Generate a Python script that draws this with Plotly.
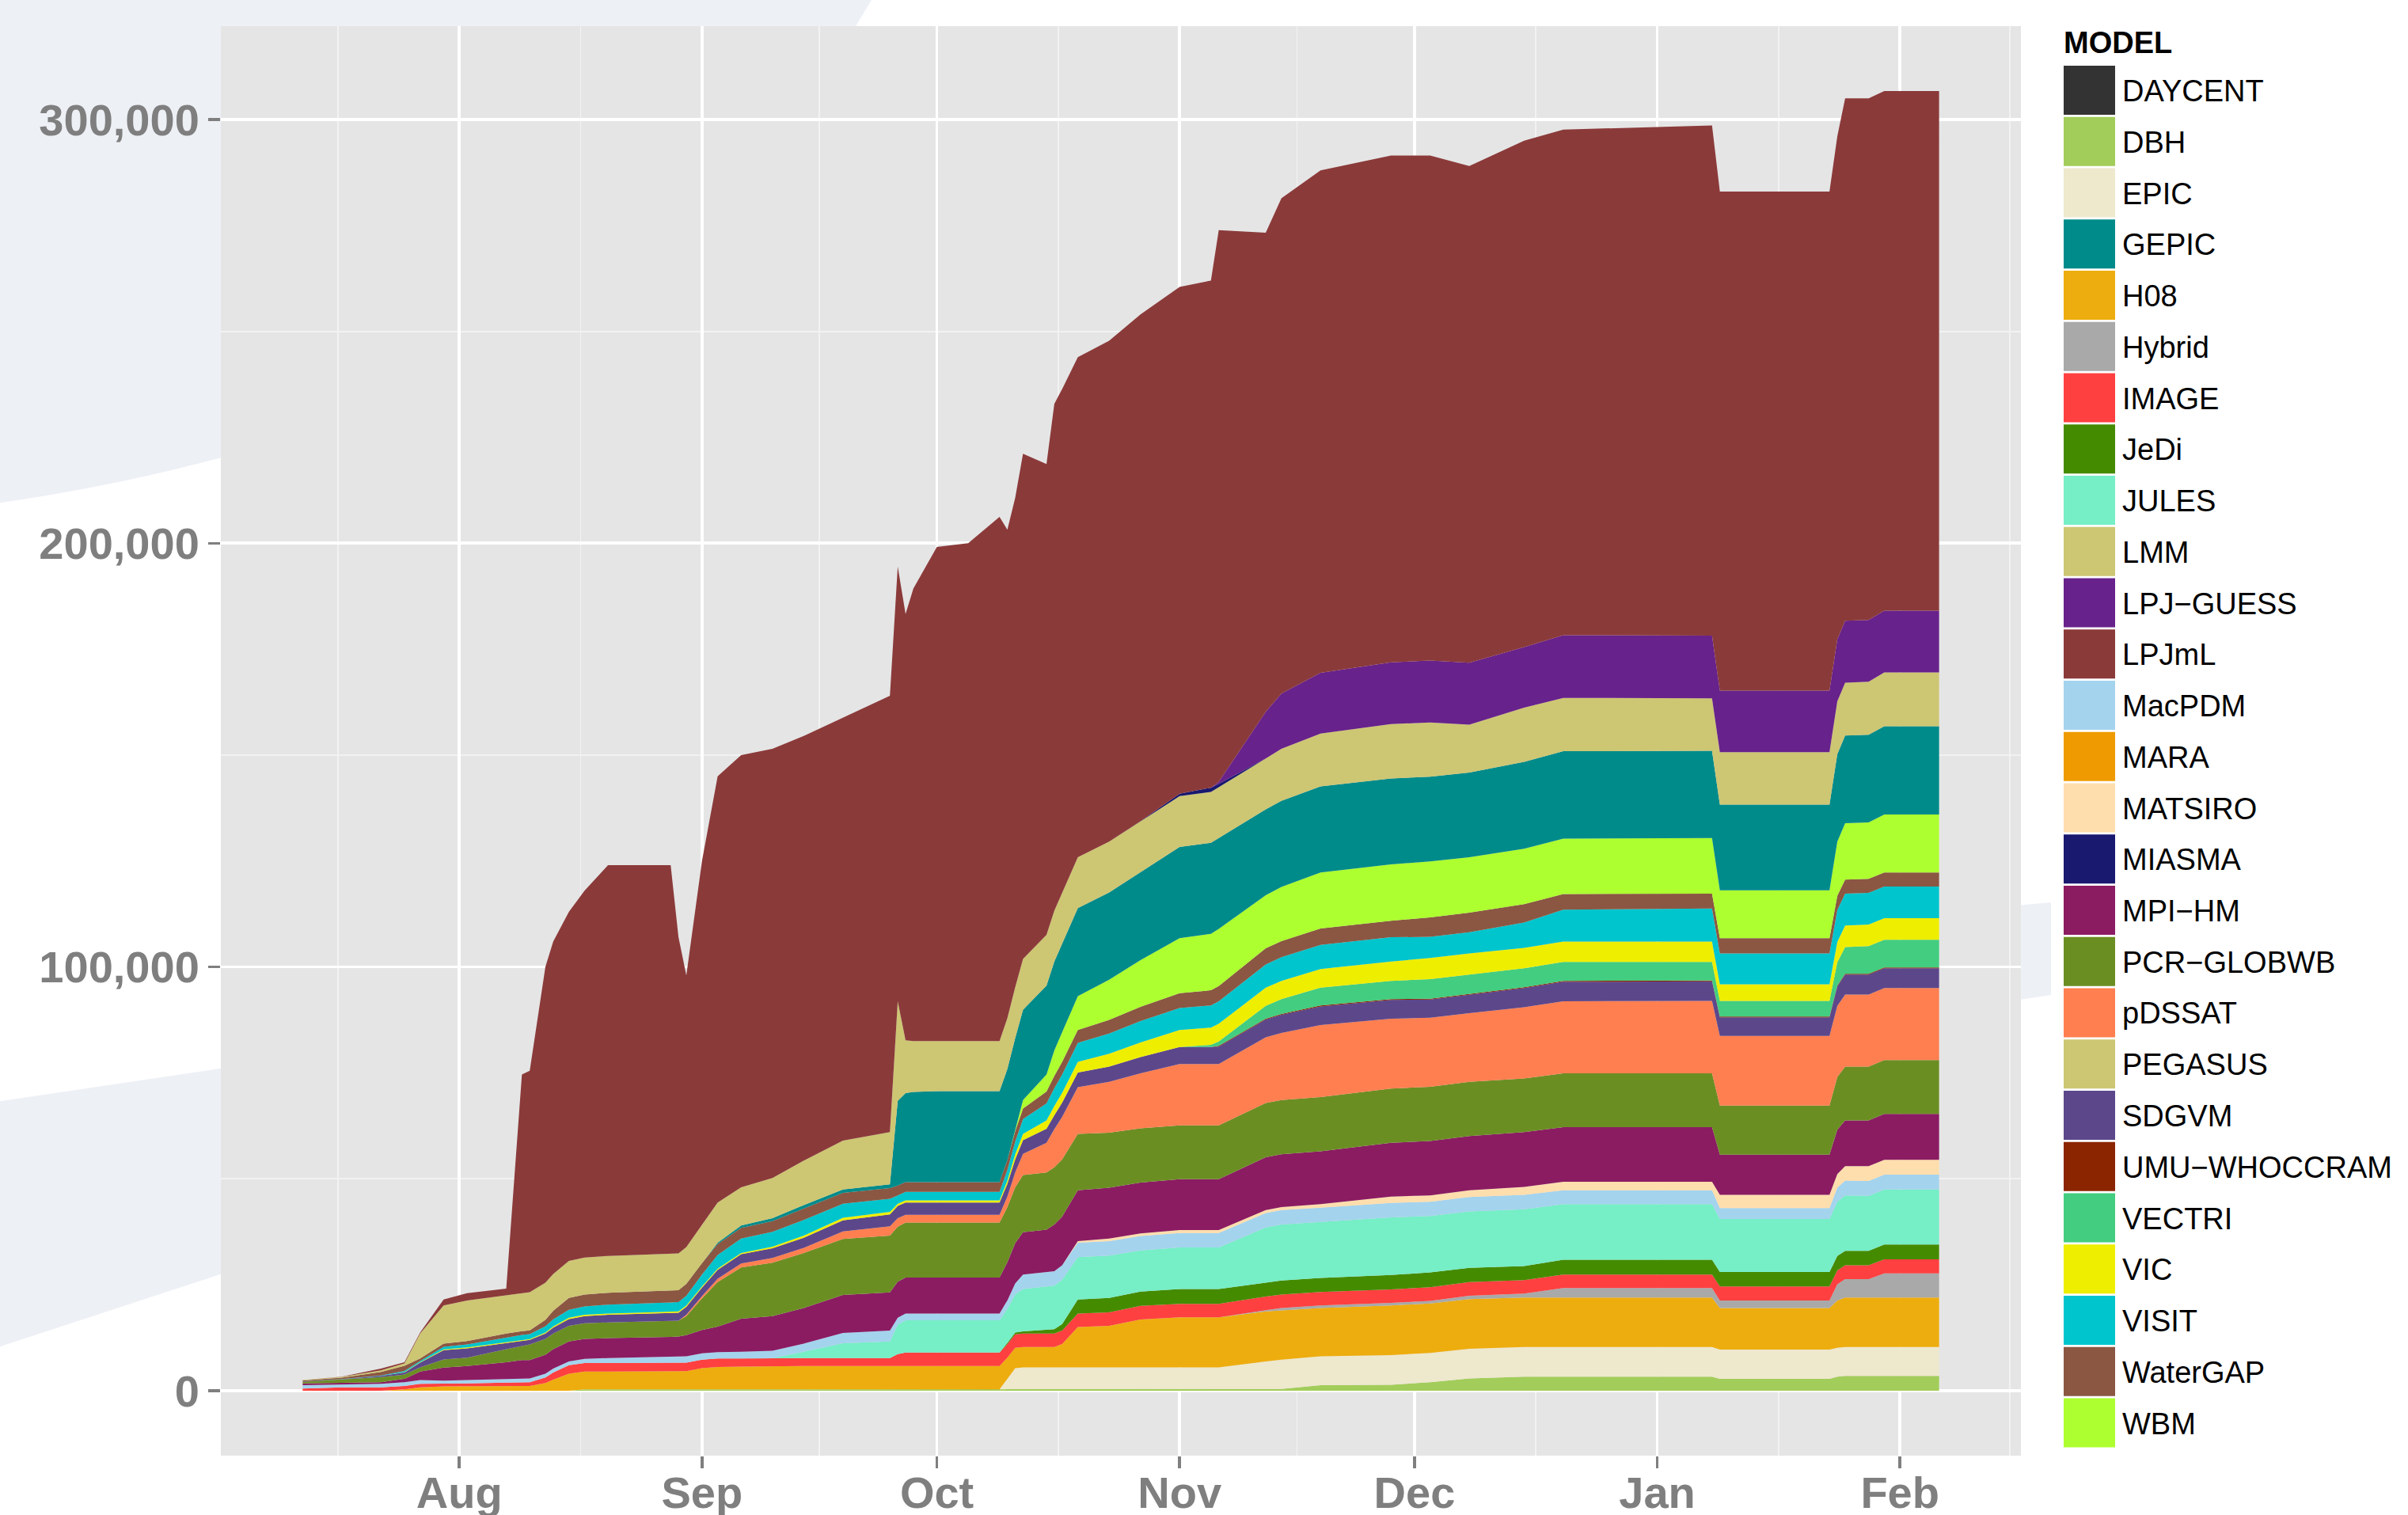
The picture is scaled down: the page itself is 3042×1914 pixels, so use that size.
import plotly.graph_objects as go
import pandas as pd

# ---------------- data (values in thousands) ----------------
DATES = ['2012-07-12', '2012-07-17', '2012-07-22', '2012-07-25', '2012-07-27', '2012-07-30', '2012-08-02', '2012-08-07', '2012-08-09', '2012-08-10',
         '2012-08-12', '2012-08-13', '2012-08-15', '2012-08-17', '2012-08-20', '2012-08-28', '2012-08-29', '2012-08-30', '2012-09-01', '2012-09-03',
         '2012-09-06', '2012-09-10', '2012-09-14', '2012-09-19', '2012-09-25', '2012-09-26', '2012-09-27', '2012-09-28', '2012-10-01', '2012-10-05',
         '2012-10-09', '2012-10-10', '2012-10-11', '2012-10-12', '2012-10-15', '2012-10-16', '2012-10-17', '2012-10-19', '2012-10-23', '2012-10-27',
         '2012-11-01', '2012-11-05', '2012-11-06', '2012-11-12', '2012-11-14', '2012-11-19', '2012-11-28', '2012-12-03', '2012-12-08', '2012-12-15',
         '2012-12-20', '2013-01-08', '2013-01-09', '2013-01-23', '2013-01-24', '2013-01-25', '2013-01-28', '2013-01-30', '2013-02-06']

# height of the whole stack (top edge of LPJmL)
TOTAL_TOP = [2.5, 3.3, 5.2, 6.7, 13.7, 21.5, 23.0, 24.1, 74.6, 75.5,
             100.0, 106.0, 113.0, 118.0, 124.0, 124.0, 107.0, 98.0, 125.0, 145.0,
             150.0, 151.5, 154.5, 158.8, 164.0, 194.5, 183.3, 189.3, 199.1, 200.0,
             206.2, 203.2, 210.7, 221.1, 218.7, 232.9, 236.4, 243.9, 247.8, 254.0,
             260.5, 262.0, 273.9, 273.3, 281.4, 288.0, 291.5, 291.5, 289.0, 295.0,
             297.6, 298.6, 283.0, 283.0, 296.0, 305.0, 305.0, 306.7, 306.7]

DBH = [0, 0, 0, 0, 0, 0, 0, 0, 0, 0,
       0, 0, 0, 0.3, 0.3, 0.3, 0.3, 0.3, 0.3, 0.3,
       0.3, 0.3, 0.3, 0.3, 0.3, 0.3, 0.3, 0.3, 0.3, 0.3,
       0.3, 0.3, 0.3, 0.3, 0.3, 0.3, 0.3, 0.3, 0.3, 0.3,
       0.3, 0.3, 0.3, 0.3, 0.4, 1.3, 1.4, 2.0, 2.9, 3.3,
       3.3, 3.3, 2.8, 2.8, 3.3, 3.5, 3.5, 3.5, 3.5]
EPIC = [0, 0, 0, 0, 0, 0, 0, 0, 0, 0,
        0, 0, 0, 0, 0, 0, 0, 0, 0, 0,
        0, 0, 0, 0, 0, 0, 0, 0, 0, 0,
        0, 2.5, 5.0, 5.2, 5.2, 5.2, 5.2, 5.2, 5.2, 5.2,
        5.2, 5.2, 5.2, 6.6, 6.9, 6.8, 7.0, 6.9, 7.0, 7.0,
        7.0, 7.0, 6.9, 6.9, 6.8, 6.8, 6.8, 6.8, 6.8]
H08 = [0, 0, 0, 0.3, 0.8, 1.0, 1.0, 1.0, 1.1, 1.1,
       1.8, 2.6, 4.0, 4.2, 4.2, 4.2, 4.2, 4.3, 5.0, 5.3,
       5.4, 5.5, 5.5, 5.5, 5.5, 5.5, 5.5, 5.5, 5.5, 5.5,
       5.5, 5.0, 4.8, 4.8, 4.8, 4.8, 5.5, 9.5, 9.8, 11.3,
       11.8, 11.8, 11.8, 11.8, 11.6, 11.4, 11.7, 11.7, 11.7, 11.7,
       11.7, 11.7, 9.8, 9.8, 11.2, 11.7, 11.7, 11.7, 11.7]
HYBRID = [0, 0, 0, 0, 0, 0, 0, 0, 0, 0,
          0, 0, 0, 0, 0, 0, 0, 0, 0, 0,
          0, 0, 0, 0, 0, 0, 0, 0, 0, 0,
          0, 0, 0, 0, 0, 0, 0, 0, 0, 0,
          0, 0, 0, 0.3, 0.6, 0.6, 0.6, 0.6, 0.8, 0.9,
          2.2, 2.2, 1.8, 1.8, 3.8, 4.3, 4.3, 5.7, 5.7]
IMAGE = [0.5, 0.8, 0.8, 0.8, 0.8, 0.6, 0.7, 0.9, 0.9, 0.9,
         1.3, 1.7, 2.0, 2.0, 2.0, 2.0, 2.0, 2.0, 2.0, 2.0,
         1.9, 1.9, 1.9, 1.9, 1.9, 2.8, 3.2, 3.2, 3.2, 3.2,
         3.2, 3.2, 3.2, 3.2, 3.2, 3.2, 3.2, 3.2, 3.2, 3.2,
         3.2, 3.2, 3.2, 3.2, 3.2, 3.2, 3.2, 3.2, 3.2, 3.2,
         3.2, 3.2, 3.3, 3.3, 3.3, 3.3, 3.3, 3.3, 3.3]
JEDI = [0, 0, 0, 0, 0, 0, 0, 0, 0, 0,
        0, 0, 0, 0, 0, 0, 0, 0, 0, 0,
        0, 0, 0, 0, 0, 0, 0, 0, 0, 0,
        0, 0.3, 0.4, 0.5, 0.8, 1.0, 1.5, 3.3, 3.4, 3.4,
        3.5, 3.5, 3.5, 3.3, 3.3, 3.3, 3.4, 3.5, 3.4, 3.3,
        3.5, 3.5, 3.4, 3.4, 3.4, 3.4, 3.4, 3.5, 3.5]
JULES = [0, 0, 0, 0, 0, 0, 0, 0, 0, 0,
         0, 0, 0, 0, 0, 0, 0, 0, 0, 0,
         0, 0, 1.5, 3.5, 3.9, 7.0, 7.6, 7.6, 7.6, 7.6,
         7.6, 8.0, 9.0, 10.0, 10.3, 10.3, 10.5, 10.0, 10.0, 9.7,
         9.8, 9.8, 9.8, 13.0, 13.2, 13.2, 13.6, 13.3, 13.3, 13.4,
         13.1, 13.1, 12.5, 12.5, 12.8, 13.1, 13.0, 13.0, 13.0]
MACPDM = [0.8, 0.7, 0.8, 0.9, 0.9, 0.75, 0.8, 0.8, 0.9, 0.9,
          0.9, 0.9, 0.9, 1.0, 1.2, 1.5, 1.5, 1.5, 1.5, 1.5,
          1.6, 1.7, 1.9, 2.4, 2.6, 1.6, 1.6, 1.6, 1.6, 1.6,
          1.6, 2.0, 2.6, 3.4, 3.4, 3.4, 3.4, 3.4, 3.4, 3.4,
          3.4, 3.4, 3.4, 3.4, 3.4, 3.4, 3.4, 3.4, 3.4, 3.4,
          3.3, 3.3, 2.6, 2.6, 3.3, 3.5, 3.5, 3.5, 3.5]
MATSIRO = [0, 0, 0, 0, 0, 0, 0, 0, 0, 0,
           0, 0, 0, 0, 0, 0, 0, 0, 0, 0,
           0, 0, 0, 0, 0, 0, 0, 0, 0, 0,
           0, 0, 0, 0, 0, 0, 0, 0.4, 0.6, 0.6,
           0.7, 0.7, 0.7, 0.7, 0.7, 0.8, 1.5, 1.5, 1.6, 1.9,
           2.0, 2.0, 3.1, 3.1, 3.2, 3.4, 3.5, 3.5, 3.5]
MPIHM = [0.4, 0.3, 0.4, 0.8, 2.0, 3.1, 3.3, 4.0, 4.3, 4.3,
         4.5, 4.6, 4.7, 4.7, 4.7, 4.7, 4.8, 5.0, 5.5, 6.0,
         7.8, 8.2, 8.4, 9.0, 9.0, 8.5, 8.5, 8.5, 8.5, 8.5,
         8.5, 9.0, 9.5, 10.0, 10.0, 11.0, 11.5, 12.0, 12.0, 12.0,
         12.0, 12.0, 12.0, 12.5, 12.5, 12.5, 12.7, 12.8, 12.8, 12.9,
         12.9, 12.9, 9.5, 9.5, 10.5, 10.8, 10.8, 10.8, 10.8]
PCR = [0.4, 0.8, 1.2, 1.0, 1.0, 1.9, 2.0, 3.1, 3.4, 3.7,
       3.7, 3.7, 3.7, 3.7, 3.7, 3.7, 3.7, 4.5, 7.5, 10.5,
       12.1, 12.6, 13.0, 13.2, 13.4, 13.0, 13.0, 13.0, 13.0, 13.0,
       13.0, 13.0, 13.2, 13.5, 13.5, 13.5, 13.5, 13.3, 13.0, 12.8,
       12.7, 12.7, 12.7, 12.8, 12.8, 12.8, 12.8, 12.8, 12.8, 12.7,
       12.7, 12.7, 11.6, 11.6, 12.4, 12.7, 12.7, 12.7, 12.7]
PDSSAT = [0, 0, 0, 0, 0, 0, 0, 0, 0, 0,
          0, 0, 0, 0, 0, 0, 0, 0.3, 0.5, 0.8,
          0.9, 1.1, 1.2, 1.8, 2.2, 2.0, 1.8, 1.8, 1.8, 1.8,
          1.8, 2.5, 3.5, 5.0, 7.0, 9.0, 10.0, 11.0, 12.0, 13.0,
          14.5, 14.5, 14.5, 15.5, 15.8, 17.0, 16.5, 16.3, 16.2, 16.8,
          17.0, 17.1, 16.4, 16.4, 16.8, 17.0, 17.0, 17.0, 17.0]
SDGVM = [0.1, 0.1, 0.3, 0.5, 1.1, 2.2, 2.2, 1.4, 1.2, 1.1,
         1.3, 1.4, 1.6, 1.7, 1.8, 1.9, 1.9, 1.9, 2.0, 2.1,
         2.2, 2.3, 2.4, 2.6, 2.8, 2.9, 2.9, 2.9, 2.9, 2.9,
         2.9, 3.0, 3.1, 3.2, 3.3, 3.3, 3.4, 3.5, 3.6, 3.8,
         4.0, 4.0, 4.1, 4.2, 4.3, 4.4, 4.4, 4.3, 4.3, 4.5,
         4.6, 4.6, 4.4, 4.4, 4.6, 4.7, 4.7, 4.7, 4.7]
UMU = [0, 0, 0, 0, 0, 0, 0, 0, 0, 0,
       0, 0, 0, 0, 0, 0, 0, 0, 0, 0,
       0, 0, 0, 0, 0, 0, 0, 0, 0, 0,
       0, 0, 0, 0, 0, 0, 0, 0, 0, 0,
       0, 0, 0.2, 0.2, 0.2, 0.2, 0.2, 0.2, 0.2, 0.2,
       0.2, 0.2, 0.2, 0.2, 0.2, 0.2, 0.2, 0.2, 0.2]
VECTRI = [0, 0, 0, 0, 0, 0, 0, 0, 0, 0,
          0, 0, 0, 0, 0, 0, 0, 0, 0, 0,
          0, 0, 0, 0, 0, 0, 0, 0, 0, 0,
          0, 0, 0, 0, 0, 0, 0, 0, 0, 0,
          0, 0.5, 1.0, 3.0, 3.5, 4.2, 4.3, 4.6, 4.6, 4.5,
          4.5, 4.4, 3.7, 3.7, 5.5, 6.3, 6.5, 6.5, 6.5]
VIC = [0, 0, 0, 0.05, 0.1, 0.2, 0.2, 0.2, 0.15, 0.15,
       0.2, 0.25, 0.3, 0.3, 0.3, 0.3, 0.3, 0.3, 0.3, 0.3,
       0.3, 0.4, 0.5, 0.6, 0.6, 0.5, 0.5, 0.5, 0.5, 0.5,
       0.5, 0.8, 1.2, 1.5, 2.0, 2.2, 2.3, 2.5, 3.0, 3.5,
       4.0, 4.1, 4.2, 4.3, 4.3, 4.4, 4.6, 5.0, 5.0, 4.8,
       4.8, 4.8, 3.9, 3.9, 4.8, 5.1, 5.1, 5.1, 5.1]
VISIT = [0, 0.05, 0.1, 0.3, 0.3, 0.6, 0.7, 1.2, 1.2, 1.2,
         1.5, 1.7, 1.9, 2.0, 2.1, 2.2, 2.2, 2.3, 2.8, 3.2,
         3.4, 3.5, 3.7, 3.3, 3.1, 2.0, 2.0, 2.0, 2.0, 2.0,
         2.0, 2.5, 3.0, 3.5, 4.0, 4.2, 4.3, 4.5, 4.8, 5.0,
         5.2, 5.2, 5.3, 5.5, 5.6, 5.7, 5.7, 5.0, 5.0, 6.0,
         7.5, 7.8, 7.3, 7.3, 7.5, 7.5, 7.5, 7.5, 7.5]
WATERGAP = [0.2, 0.3, 0.8, 1.2, 0.6, 0.75, 0.8, 0.9, 0.9, 0.9,
            1.5, 2.0, 2.8, 2.8, 2.8, 2.8, 2.8, 2.8, 2.7, 2.6,
            2.5, 2.5, 2.7, 2.6, 2.5, 2.3, 2.3, 2.3, 2.3, 2.3,
            2.3, 2.3, 2.4, 2.5, 2.8, 2.9, 3.0, 3.0, 3.2, 3.4,
            3.5, 3.6, 3.6, 3.8, 3.8, 3.9, 3.9, 4.6, 4.6, 4.3,
            3.7, 3.5, 3.6, 3.6, 3.4, 3.3, 3.3, 3.3, 3.3]
WBM = [0, 0, 0, 0, 0, 0, 0, 0, 0, 0,
       0, 0, 0, 0, 0, 0, 0, 0, 0, 0,
       0, 0, 0, 0, 0, 0, 0, 0, 0, 0,
       0, 0, 0.5, 2.0, 4.0, 6.0, 7.0, 8.0, 9.5, 11.0,
       13.0, 13.3, 13.5, 12.5, 12.8, 13.2, 13.3, 13.2, 13.1, 13.1,
       13.1, 13.1, 11.3, 11.3, 12.8, 13.3, 13.3, 13.7, 13.7]
GEPIC = [0, 0, 0, 0, 0, 0, 0, 0, 0, 0,
         0, 0, 0, 0, 0, 0, 0, 0, 0, 0.3,
         0.6, 0.7, 0.8, 0.8, 0.9, 20.0, 21.0, 21.3, 21.5, 21.5,
         21.5, 21.5, 21.5, 21.3, 21.0, 21.0, 21.0, 20.8, 20.6, 20.8,
         21.5, 21.5, 21.4, 20.3, 20.3, 20.3, 20.3, 20.0, 20.0, 20.5,
         20.6, 20.6, 20.2, 20.2, 20.6, 20.7, 20.7, 20.8, 20.8]
LMM = [0.1, 0.2, 0.4, 0.6, 5.9, 9.0, 9.6, 9.0, 9.0, 9.0,
       8.8, 8.7, 8.7, 8.7, 8.7, 8.7, 8.7, 8.7, 9.0, 9.5,
       9.0, 9.5, 10.5, 11.5, 12.3, 23.5, 12.5, 12.0, 11.8, 11.8,
       11.8, 12.0, 12.0, 12.0, 12.0, 12.0, 12.0, 12.0, 12.0, 12.0,
       12.0, 12.0, 12.0, 12.0, 12.3, 12.5, 12.8, 12.8, 11.3, 12.8,
       12.6, 12.4, 12.4, 12.4, 12.5, 12.5, 12.5, 12.7, 12.7]
MIASMA = [0, 0, 0, 0, 0, 0, 0, 0, 0, 0,
          0, 0, 0, 0, 0, 0, 0, 0, 0, 0,
          0, 0, 0, 0, 0, 0, 0, 0, 0, 0,
          0, 0, 0, 0, 0, 0, 0, 0, 0, 0,
          0.6, 1.0, 0.8, 0, 0, 0, 0, 0, 0, 0,
          0, 0, 0, 0, 0, 0, 0, 0, 0]
LPJGUESS = [0, 0, 0, 0, 0, 0, 0, 0, 0, 0,
            0, 0, 0, 0, 0, 0, 0, 0, 0, 0,
            0, 0, 0, 0, 0, 0, 0, 0, 0, 0,
            0, 0, 0, 0, 0, 0, 0, 0, 0, 0,
            0, 0, 0.5, 11.0, 13.0, 14.3, 14.6, 14.6, 14.6, 14.3,
            14.8, 14.8, 14.5, 14.5, 14.6, 14.6, 14.6, 14.6, 14.6]

UNIT = 1000

# legend (all models, alphabetical as in the chart) and colours
LEGEND_MODELS = ['DAYCENT', 'DBH', 'EPIC', 'GEPIC', 'H08', 'Hybrid', 'IMAGE', 'JeDi', 'JULES', 'LMM',
                 'LPJ\u2212GUESS', 'LPJmL', 'MacPDM', 'MARA', 'MATSIRO', 'MIASMA', 'MPI\u2212HM', 'PCR\u2212GLOBWB',
                 'pDSSAT', 'PEGASUS', 'SDGVM', 'UMU\u2212WHOCCRAM', 'VECTRI', 'VIC', 'VISIT', 'WaterGAP', 'WBM']
LEGEND_COLORS = ['#333333', '#A2CD5A', '#EEE8CD', '#008B8B', '#EEAD0E', '#A9A9A9', '#FF4040', '#458B00', '#76EEC6', '#CDC673',
                 '#68228B', '#8B3A3A', '#A4D3EE', '#EE9A00', '#FFDEAD', '#191970', '#8B1C62', '#6B8E23',
                 '#FF7F50', '#CDC673', '#5D478B', '#8B2500', '#43CD80', '#EEEE00', '#00C5CD', '#8B5742', '#ADFF2F']
COLOR = dict(zip(LEGEND_MODELS, LEGEND_COLORS))

# stacking order, bottom to top
STACK = [('DBH', DBH), ('EPIC', EPIC), ('H08', H08), ('Hybrid', HYBRID), ('IMAGE', IMAGE), ('JeDi', JEDI),
         ('JULES', JULES), ('MacPDM', MACPDM), ('MATSIRO', MATSIRO), ('MPI\u2212HM', MPIHM),
         ('PCR\u2212GLOBWB', PCR), ('pDSSAT', PDSSAT), ('SDGVM', SDGVM), ('UMU\u2212WHOCCRAM', UMU),
         ('VECTRI', VECTRI), ('VIC', VIC), ('VISIT', VISIT), ('WaterGAP', WATERGAP), ('WBM', WBM),
         ('GEPIC', GEPIC), ('LMM', LMM), ('MIASMA', MIASMA), ('LPJ\u2212GUESS', LPJGUESS)]

# LPJmL layer = read top edge minus everything below it
below = [sum(s[1][i] for s in STACK) for i in range(len(DATES))]
LPJML = [max(0.0, t - b) for t, b in zip(TOTAL_TOP, below)]
STACK.append(('LPJmL', LPJML))

x = pd.to_datetime(DATES)

fig = go.Figure()
for name, vals in STACK:
    fig.add_trace(go.Scatter(
        x=x, y=[v * UNIT for v in vals], name=name, mode='lines',
        stackgroup='one', line=dict(width=0, color=COLOR[name]),
        fillcolor=COLOR[name], showlegend=False, hoverinfo='skip'))

# ---------------- axes (ggplot-like expansion of 5%) ----------------
x0, x1 = x.min(), x.max()
span = x1 - x0
xr = [x0 - span * 0.05, x1 + span * 0.05]
ymax = max(TOTAL_TOP) * UNIT
yr = [-0.05 * ymax, 1.05 * ymax]

month_starts = pd.date_range('2012-07-01', '2013-03-01', freq='MS')
major = [m for m in month_starts if xr[0] <= m <= xr[1]]
mids = [month_starts[i] + (month_starts[i + 1] - month_starts[i]) / 2 for i in range(len(month_starts) - 1)]
mids = [m for m in mids if xr[0] <= m <= xr[1]]

GRAY = '#7F7F7F'
FONT = 'Liberation Sans, Arial, Helvetica, sans-serif'

fig.update_xaxes(
    type='date', range=xr, tickmode='array', tickvals=major,
    ticktext=[m.strftime('%b') for m in major],
    ticks='outside', ticklen=15, tickwidth=3.5, tickcolor=GRAY,
    showgrid=True, gridcolor='white', gridwidth=3.6,
    minor=dict(tickmode='array', tickvals=mids, showgrid=True, gridcolor='#F2F2F2', gridwidth=1.8, ticks=''),
    tickfont=dict(family=FONT, size=56, color=GRAY, weight='bold'),
    showline=False, zeroline=False, automargin=False, ticklabelstandoff=-17)

fig.update_yaxes(
    range=yr, tickmode='array', tickvals=[0, 100000, 200000, 300000],
    ticktext=['0', '100,000', '200,000', '300,000'],
    ticks='outside', ticklen=15, tickwidth=3.5, tickcolor=GRAY,
    showgrid=True, gridcolor='white', gridwidth=3.6,
    minor=dict(tickmode='array', tickvals=[50000, 150000, 250000], showgrid=True, gridcolor='#F2F2F2', gridwidth=1.8, ticks=''),
    tickfont=dict(family=FONT, size=56, color=GRAY, weight='bold'),
    showline=False, zeroline=False, automargin=False, ticklabelstandoff=0)

W, H = 3042, 1914
ML, MR, MT, MB = 279, 489, 33, 75
PW, PH = W - ML - MR, H - MT - MB


def px(v):
    return (v - ML) / PW


def py(v):
    return (H - MB - v) / PH


shapes = []
# faint page decoration behind the figure
WM = '#EDF0F5'
shapes.append(dict(type='path', xref='paper', yref='paper', layer='below', line=dict(width=0), fillcolor=WM,
                   path=f"M {px(-5)},{py(-5)} L {px(1104)},{py(-5)} Q {px(800)},{py(520)} {px(-5)},{py(636)} Z"))
shapes.append(dict(type='path', xref='paper', yref='paper', layer='below', line=dict(width=0), fillcolor=WM,
                   path=(f"M {px(-5)},{py(1392)} L {px(278)},{py(1350)} L {px(2591)},{py(1140)} "
                         f"L {px(2591)},{py(1257)} L {px(278)},{py(1610)} L {px(-5)},{py(1703)} Z")))
# panel background
shapes.append(dict(type='rect', xref='x domain', yref='y domain', x0=0, x1=1, y0=0, y1=1,
                   layer='below', line=dict(width=0), fillcolor='#E5E5E5'))

annotations = []
# legend drawn by hand: square keys stacked like ggplot's guide
KEY_X0, KEY_X1, KEY_TOP, KEY_PITCH, KEY_H = 2607, 2672, 83, 64.75, 62
for i, (name, col) in enumerate(zip(LEGEND_MODELS, LEGEND_COLORS)):
    top = KEY_TOP + i * KEY_PITCH
    shapes.append(dict(type='rect', xref='paper', yref='paper', layer='above',
                       x0=px(KEY_X0), x1=px(KEY_X1), y0=py(top + KEY_H), y1=py(top),
                       line=dict(width=0), fillcolor=col))
    annotations.append(dict(xref='paper', yref='paper', x=px(2679), y=py(top + KEY_H / 2 + 1),
                            xanchor='left', yanchor='middle', showarrow=False, text=name,
                            font=dict(family=FONT, size=38, color='black')))
annotations.append(dict(xref='paper', yref='paper', x=px(2605), y=py(54), xanchor='left', yanchor='middle',
                        showarrow=False, text='MODEL',
                        font=dict(family=FONT, size=38, color='black', weight='bold')))

fig.update_layout(
    width=W, height=H, margin=dict(l=ML, r=MR, t=MT, b=MB, pad=0),
    paper_bgcolor='white', plot_bgcolor='rgba(0,0,0,0)',
    showlegend=False, hovermode=False, shapes=shapes, annotations=annotations,
    font=dict(family=FONT))

# the page's default 8px body margin would shift the figure; remove it
fig.write_html('out.html', config={'displayModeBar': False, 'staticPlot': True}, post_script=(
    "document.documentElement.style.margin='0';document.body.style.margin='0';"
    "document.body.style.padding='0';document.body.style.overflow='hidden';"))
